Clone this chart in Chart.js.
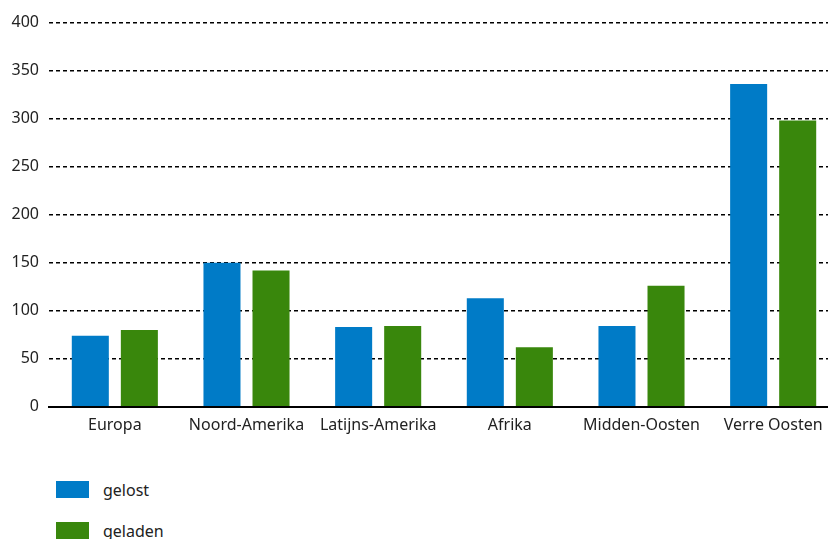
<!DOCTYPE html>
<html>
<head>
<meta charset="utf-8">
<script src="https://cdn.jsdelivr.net/npm/chart.js@4"></script>
<style>
  html, body { margin: 0; padding: 0; background: #fff; overflow: hidden; }
  body { width: 828px; height: 539px; position: relative; font-family: "Noto Sans", sans-serif; }
  #wrap { position: absolute; left: 0; top: 3px; width: 840px; height: 433px; }
  #legend { position: absolute; left: 56px; top: 481px; }
  .li { display: flex; align-items: center; height: 17px; margin-bottom: 24px; font-size: 16px; color: #222; }
  .box { width: 33px; height: 17px; margin-right: 14px; }
</style>
</head>
<body>
<div id="wrap"><canvas id="c"></canvas></div>
<div id="legend"></div>
<script>
const categories = ["Europa", "Noord-Amerika", "Latijns-Amerika", "Afrika", "Midden-Oosten", "Verre Oosten"];
const seriesNames = ["gelost", "geladen"];
const gelost = [74, 150, 83, 113, 84, 336];
const geladen = [80, 142, 84, 62, 126, 298];
const yTicks = [0, 50, 100, 150, 200, 250, 300, 350, 400];
const colors = ["#007BC7", "#39870C"];

const lg = document.getElementById('legend');
seriesNames.forEach((n, i) => {
  const d = document.createElement('div'); d.className = 'li';
  const b = document.createElement('div'); b.className = 'box'; b.style.background = colors[i];
  const t = document.createElement('span'); t.textContent = n;
  d.appendChild(b); d.appendChild(t); lg.appendChild(d);
});

new Chart(document.getElementById('c'), {
  type: 'bar',
  data: {
    labels: categories,
    datasets: [
      { label: seriesNames[0], data: gelost, backgroundColor: colors[0] },
      { label: seriesNames[1], data: geladen, backgroundColor: colors[1] }
    ]
  },
  options: {
    responsive: true,
    maintainAspectRatio: false,
    animation: false,
    devicePixelRatio: 1,
    categoryPercentage: 0.745,
    barPercentage: 0.755,
    layout: { padding: { top: 19, right: 1, left: 0, bottom: 0 } },
    plugins: { legend: { display: false }, tooltip: { enabled: false } },
    scales: {
      x: {
        grid: { display: false },
        border: { display: true, color: '#000', width: 2 },
        ticks: { color: '#222', font: { family: 'Noto Sans', size: 16 }, padding: 1, maxRotation: 0 }
      },
      y: {
        min: 0, max: 400,
        afterBuildTicks: (s) => { s.ticks = yTicks.map(v => ({ value: v })); },
        afterFit: (s) => { s.width = 49; },
        border: { display: false, dash: [4, 3] },
        grid: {
          color: (ctx) => ctx.tick && ctx.tick.value === 0 ? 'rgba(0,0,0,0)' : '#000',
          lineWidth: 1.5,
          drawTicks: false
        },
        ticks: { color: '#222', font: { family: 'Noto Sans', size: 16 }, padding: 10 }
      }
    }
  }
});
</script>
</body>
</html>
